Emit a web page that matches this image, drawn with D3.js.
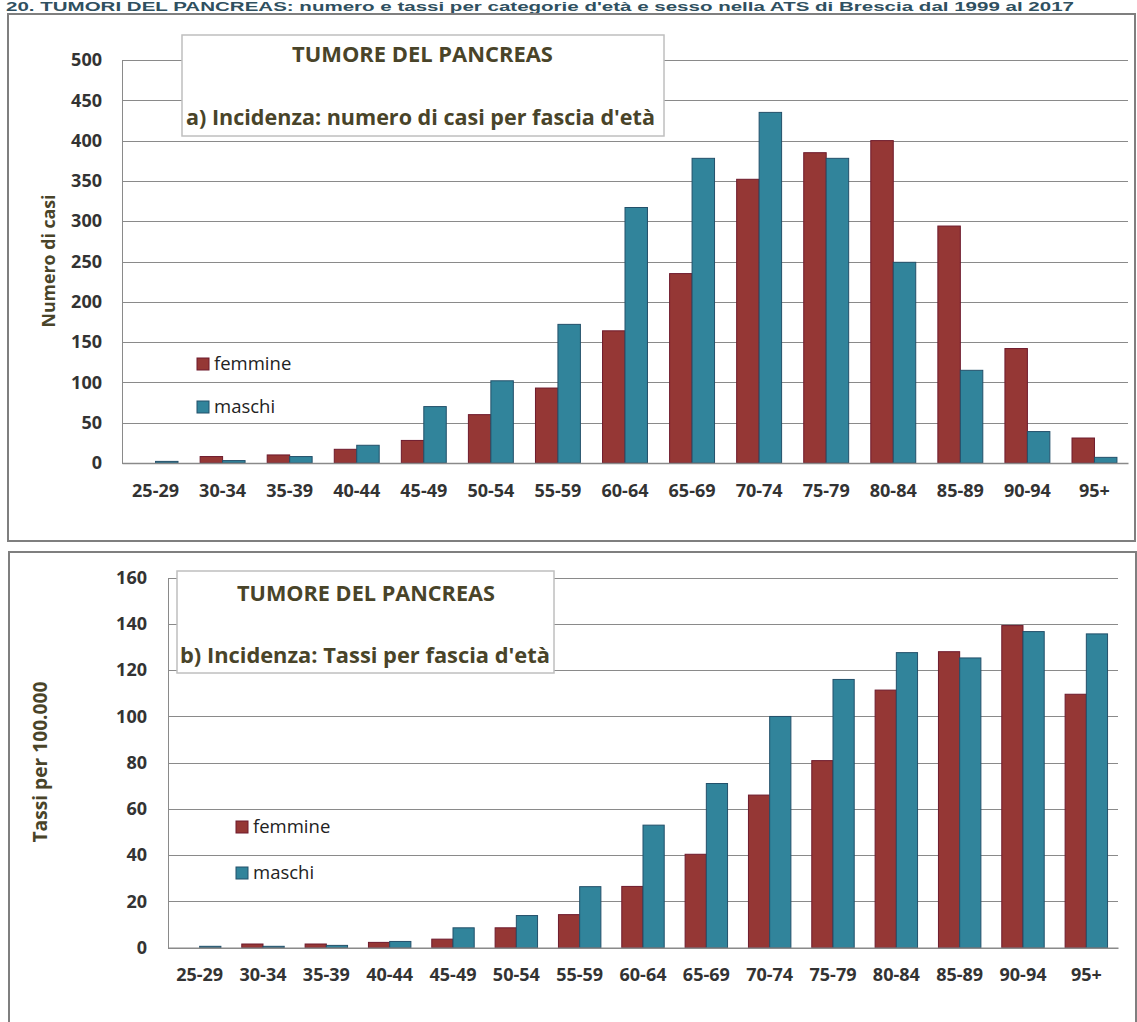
<!DOCTYPE html>
<html>
<head>
<meta charset="utf-8">
<script src="https://cdn.jsdelivr.net/npm/d3@7"></script>
<style>
  html, body { margin: 0; padding: 0; background: #ffffff; }
  svg { display: block; }
</style>
</head>
<body>
<svg id="chart" width="1137" height="1022"></svg>
<script>
// ---------------- DATA ----------------
const categories = ["25-29","30-34","35-39","40-44","45-49","50-54","55-59","60-64","65-69","70-74","75-79","80-84","85-89","90-94","95+"];
const seriesNames = ["femmine","maschi"];

// a) Incidenza: numero di casi per fascia d'età
const casiFemmine = [0, 8, 10, 17, 28, 60, 93, 164, 235, 352, 385, 400, 294, 142, 31];
const casiMaschi  = [2, 3, 8, 22, 70, 102, 172, 317, 378, 435, 378, 249, 115, 39, 7];
const casiTicks   = [0, 50, 100, 150, 200, 250, 300, 350, 400, 450, 500];

// b) Incidenza: Tassi per fascia d'età (per 100.000)
const tassiFemmine = [0, 1.6, 1.6, 2.3, 3.7, 8.6, 14.3, 26.5, 40.4, 66, 80.9, 111.4, 128, 139.3, 109.6];
const tassiMaschi  = [0.6, 0.6, 1.0, 2.7, 8.6, 13.9, 26.4, 53, 71, 100, 116, 127.6, 125.3, 136.7, 135.7];
const tassiTicks   = [0, 20, 40, 60, 80, 100, 120, 140, 160];

const headerText = "20. TUMORI DEL PANCREAS: numero e tassi per categorie d'età e sesso nella ATS di Brescia dal 1999 al 2017";
const chartTitle = "TUMORE DEL PANCREAS";
const subtitleA = "a) Incidenza: numero di casi per fascia d'età";
const subtitleB = "b) Incidenza: Tassi per fascia d'età";
const yTitleA = "Numero di casi";
const yTitleB = "Tassi per 100.000";

// ---------------- STYLE ----------------
const colors = { femmine: "#953735", maschi: "#31849B" };
const strokes = { femmine: "#6e1a2c", maschi: "#23506a" };
const FONT = "'Open Sans', 'DejaVu Sans', sans-serif";
const titleColor = "#494429";
const tickColor = "#333333";
const gridColor = "#8a8a8a";

const svg = d3.select("#chart");

// fit a text element's font size so that its natural width equals target
function fitWidth(sel, target) {
  const node = sel.node();
  const fs = parseFloat(sel.attr("font-size"));
  const w = node.getComputedTextLength();
  if (w > 0) sel.attr("font-size", (fs * target / w).toFixed(2));
  return sel;
}

// ---------------- HEADER ----------------
svg.append("text")
  .attr("x", 6).attr("y", 11)
  .attr("font-family", "'Liberation Sans', Arial, sans-serif")
  .attr("font-weight", "bold")
  .attr("font-size", 13.5)
  .attr("fill", "#2f5060")
  .attr("textLength", 1068)
  .attr("lengthAdjust", "spacingAndGlyphs")
  .text(headerText);

// panel borders
svg.append("rect").attr("x", 8).attr("y", 14).attr("width", 1127).attr("height", 527)
  .attr("fill", "none").attr("stroke", "#7f7f7f").attr("stroke-width", 2);
svg.append("rect").attr("x", 9).attr("y", 552).attr("width", 1127).attr("height", 500)
  .attr("fill", "none").attr("stroke", "#7f7f7f").attr("stroke-width", 2);

function drawPanel(cfg) {
  const g = svg.append("g");
  const x = d3.scaleBand().domain(categories).range([cfg.left, cfg.right]).padding(0);
  const bw = x.bandwidth();
  const groupW = bw * 0.67;
  const x1 = d3.scaleBand().domain(seriesNames).range([bw / 2 - groupW / 2, bw / 2 + groupW / 2]).padding(0);
  const y = d3.scaleLinear().domain([0, cfg.max]).range([cfg.bottom, cfg.top]);

  // gridlines via axis
  const yGrid = d3.axisLeft(y).tickValues(cfg.ticks).tickSize(-(cfg.right - cfg.left)).tickFormat("");
  const gg = g.append("g").attr("transform", `translate(${cfg.left},0)`).call(yGrid);
  gg.select(".domain").remove();
  gg.selectAll("line").attr("stroke", gridColor).attr("stroke-width", 1)
    .attr("shape-rendering", "crispEdges");

  // y axis line
  g.append("line").attr("x1", cfg.left).attr("x2", cfg.left)
    .attr("y1", y(cfg.max)).attr("y2", y(0))
    .attr("stroke", gridColor).attr("stroke-width", 1).attr("shape-rendering", "crispEdges");

  // y tick labels
  const yAx = d3.axisLeft(y).tickValues(cfg.ticks).tickSize(0).tickPadding(cfg.tickPad).tickFormat(d3.format("d"));
  const ya = g.append("g").attr("transform", `translate(${cfg.left},0)`).call(yAx);
  ya.select(".domain").remove();
  ya.selectAll("text").attr("font-family", FONT).attr("font-weight", "bold")
    .attr("font-size", 18).attr("fill", tickColor);

  // title box
  g.append("rect").attr("x", cfg.box[0]).attr("y", cfg.box[1])
    .attr("width", cfg.box[2] - cfg.box[0]).attr("height", cfg.box[3] - cfg.box[1])
    .attr("fill", "#ffffff").attr("stroke", "#bfbfbf").attr("stroke-width", 1.5);
  const t1 = g.append("text").attr("x", cfg.t1[0]).attr("y", cfg.t1[1])
    .attr("font-family", FONT).attr("font-weight", "bold").attr("font-size", 22)
    .attr("fill", titleColor).text(chartTitle);
  fitWidth(t1, cfg.t1[2]);
  const t2 = g.append("text").attr("x", cfg.t2[0]).attr("y", cfg.t2[1])
    .attr("font-family", FONT).attr("font-weight", "bold").attr("font-size", 22)
    .attr("fill", titleColor).text(cfg.subtitle);
  fitWidth(t2, cfg.t2[2]);

  // bars
  const rows = categories.map((c, i) => ({ cat: c, femmine: cfg.f[i], maschi: cfg.m[i] }));
  const groups = g.selectAll("g.cat").data(rows).join("g").attr("class", "cat")
    .attr("transform", d => `translate(${x(d.cat)},0)`);
  groups.selectAll("rect").data(d => seriesNames.map(s => ({ s, v: d[s] })))
    .join("rect")
    .attr("x", d => x1(d.s))
    .attr("width", x1.bandwidth())
    .attr("y", d => y(d.v))
    .attr("height", d => Math.max(0, y(0) - y(d.v)))
    .attr("fill", d => colors[d.s])
    .attr("stroke", d => d.v > 0 ? strokes[d.s] : "none")
    .attr("stroke-width", 1);

  // x axis
  const xAx = d3.axisBottom(x).tickSize(0).tickPadding(cfg.xPad);
  const xa = g.append("g").attr("transform", `translate(0,${y(0)})`).call(xAx);
  xa.select(".domain").attr("stroke", gridColor).attr("stroke-width", 1.5);
  xa.selectAll("text").attr("font-family", FONT).attr("font-weight", "bold")
    .attr("font-size", 18).attr("fill", tickColor);

  // y axis title
  const yt = g.append("text")
    .attr("transform", `translate(${cfg.yTitle[0]},${cfg.yTitle[1]}) rotate(-90)`)
    .attr("text-anchor", "middle")
    .attr("font-family", FONT).attr("font-weight", "bold").attr("font-size", 18)
    .attr("fill", titleColor).text(cfg.yTitleText);
  fitWidth(yt, cfg.yTitle[2]);

  // legend
  seriesNames.forEach((s, i) => {
    const ly = cfg.legend[1] + i * cfg.legend[2];
    g.append("rect").attr("x", cfg.legend[0]).attr("y", ly - 12)
      .attr("width", 12).attr("height", 12)
      .attr("fill", colors[s]).attr("stroke", strokes[s]).attr("stroke-width", 1);
    g.append("text").attr("x", cfg.legend[0] + 17).attr("y", ly)
      .attr("font-family", FONT).attr("font-size", 18.5).attr("fill", "#222")
      .text(s);
  });
}

drawPanel({
  left: 122, right: 1128, top: 60, bottom: 463, max: 500, ticks: casiTicks,
  f: casiFemmine, m: casiMaschi, tickPad: 20, xPad: 21,
  box: [182, 35, 664, 136],
  t1: [292, 62, 261], t2: [186, 125, 469], subtitle: subtitleA,
  yTitle: [55, 261, 133], yTitleText: yTitleA,
  legend: [197, 370, 43]
});

drawPanel({
  left: 168, right: 1118, top: 577.7, bottom: 947.7, max: 160, ticks: tassiTicks,
  f: tassiFemmine, m: tassiMaschi, tickPad: 21, xPad: 21,
  box: [177, 571, 554, 673],
  t1: [237, 601, 258], t2: [180, 663, 370], subtitle: subtitleB,
  yTitle: [47, 762, 161], yTitleText: yTitleB,
  legend: [236, 833, 46]
});
</script>
</body>
</html>
